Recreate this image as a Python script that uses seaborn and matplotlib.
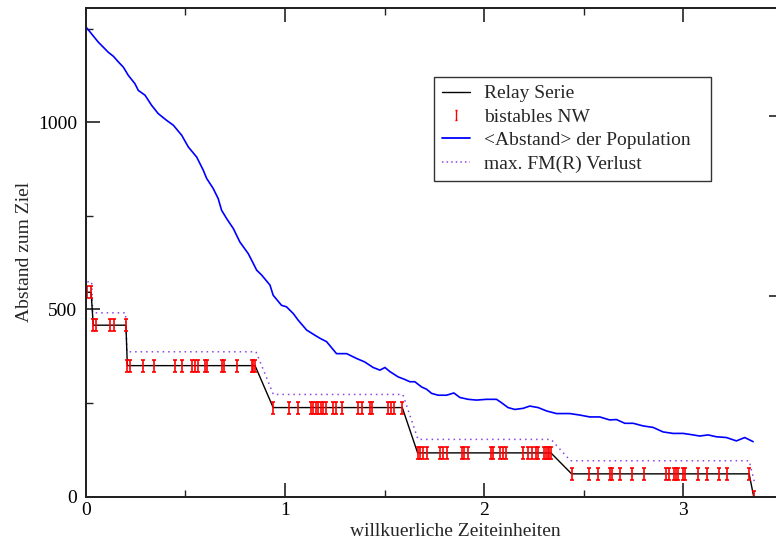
import numpy as np
import pandas as pd
import matplotlib
matplotlib.use("Agg")
import matplotlib.pyplot as plt
from matplotlib.path import Path
from matplotlib.lines import Line2D
from matplotlib.ticker import MultipleLocator, FixedLocator, NullFormatter
import seaborn as sns

# ---------------- data ----------------
# relay series: marker times per plateau and plateau values
level_values = [546, 458, 350, 238, 117, 61, 0]
level_times = [
    [0.006, 0.027],
    [0.038, 0.053, 0.121, 0.140, 0.202],
    [0.209, 0.222, 0.286, 0.344, 0.448, 0.482, 0.532, 0.548, 0.565, 0.599,
     0.610, 0.682, 0.694, 0.758, 0.833, 0.841, 0.850],
    [0.941, 1.020, 1.067, 1.130, 1.142, 1.154, 1.167, 1.181, 1.192, 1.206,
     1.242, 1.254, 1.285, 1.368, 1.385, 1.426, 1.438, 1.518, 1.532, 1.548, 1.589],
    [1.666, 1.677, 1.694, 1.711, 1.778, 1.794, 1.811, 1.887, 1.900, 1.917,
     2.034, 2.045, 2.079, 2.096, 2.112, 2.196, 2.221, 2.238, 2.258, 2.271,
     2.301, 2.309, 2.318, 2.326, 2.335],
    [2.439, 2.525, 2.572, 2.634, 2.644, 2.681, 2.740, 2.801, 2.915, 2.928,
     2.952, 2.962, 2.974, 2.999, 3.007, 3.074, 3.119, 3.179, 3.221, 3.330],
    [3.353],
]

# max. FM(R) loss (dotted)
fm_x = [0.008, 0.030, 0.035, 0.200, 0.207, 0.855, 0.942, 1.592, 1.668, 2.336, 2.433, 3.330, 3.358]
fm_y = [574, 574, 491, 491, 387, 387, 273, 273, 153, 153, 96, 96, 36]

# <Abstand> der Population (blue)
pop_x = [0.000, 0.005, 0.063, 0.113, 0.139, 0.164, 0.189, 0.214, 0.247, 0.264,
         0.298, 0.331, 0.364, 0.406, 0.440, 0.482, 0.515, 0.557, 0.590, 0.607,
         0.640, 0.665, 0.682, 0.707, 0.741, 0.774, 0.816, 0.841, 0.858, 0.883,
         0.925, 0.941, 0.983, 1.008, 1.042, 1.067, 1.109, 1.151, 1.176, 1.209,
         1.259, 1.310, 1.360, 1.400, 1.443, 1.477, 1.502, 1.527, 1.568, 1.602,
         1.627, 1.652, 1.686, 1.711, 1.736, 1.769, 1.811, 1.848, 1.878, 1.920,
         1.962, 2.012, 2.062, 2.087, 2.120, 2.154, 2.196, 2.229, 2.271, 2.313,
         2.363, 2.430, 2.480, 2.530, 2.580, 2.630, 2.664, 2.706, 2.748, 2.798,
         2.848, 2.898, 2.948, 2.999, 3.049, 3.082, 3.124, 3.166, 3.216, 3.266,
         3.308, 3.350]
pop_y = [1255, 1252, 1214, 1187, 1176, 1161, 1147, 1125, 1103, 1085,
         1072, 1045, 1023, 1005, 992, 965, 934, 907, 872, 850,
         823, 796, 765, 743, 716, 680, 649, 623, 605, 592,
         565, 538, 511, 507, 489, 471, 445, 431, 423, 414,
         382, 382, 369, 360, 345, 338, 345, 334, 320, 313,
         307, 307, 293, 287, 276, 271, 271, 277, 265, 260,
         258, 260, 260, 251, 238, 233, 236, 242, 238, 229,
         222, 222, 218, 213, 213, 205, 206, 196, 196, 189,
         185, 173, 169, 169, 165, 162, 165, 160, 158, 149,
         158, 147]

x_ticks = [0, 1, 2, 3]
y_ticks = [0, 500, 1000]

# ---------------- style ----------------
sns.set_theme(style="ticks")
plt.rcParams["font.family"] = ["Liberation Serif", "DejaVu Serif"]
plt.rcParams["axes.linewidth"] = 1.4
plt.rcParams["axes.edgecolor"] = "#222222"

relay_x = [t for ts in level_times for t in ts]
relay_y = [v for ts, v in zip(level_times, level_values) for _ in ts]
relay = pd.DataFrame({"t": relay_x, "d": relay_y})
fm = pd.DataFrame({"t": fm_x, "d": fm_y})
pop = pd.DataFrame({"t": pop_x, "d": pop_y})

W, H = 776, 545
fig = plt.figure(figsize=(W / 100, H / 100), dpi=100)
left, right, top, bottom = 85.7, 783.0, 8.0, 496.7
ax = fig.add_axes([left / W, (H - bottom) / H, (right - left) / W, (bottom - top) / H])

violet = "#8c46e6"
sns.lineplot(data=pop, x="t", y="d", ax=ax, color="#0000ff", lw=1.2,
             sort=False, estimator=None)
sns.lineplot(data=fm, x="t", y="d", ax=ax, color=violet, lw=1.1,
             linestyle=(0, (1, 2.6)), sort=False, estimator=None)
sns.lineplot(data=relay, x="t", y="d", ax=ax, color="black", lw=1.0,
             sort=False, estimator=None)

Imark = Path([(-0.33, -1), (0.33, -1), (0, -1), (0, 1), (-0.33, 1), (0.33, 1)],
             [Path.MOVETO, Path.LINETO, Path.MOVETO, Path.LINETO, Path.MOVETO, Path.LINETO])
ax.plot(relay["t"], relay["d"], linestyle="none", marker=Imark, markersize=8,
        markeredgecolor="#ff0000", markerfacecolor="none", markeredgewidth=1.2, zorder=5)

ax.set_xlim(0, 3.5)
ax.set_ylim(0, 1305)
ax.xaxis.set_major_locator(FixedLocator(x_ticks))
ax.xaxis.set_minor_locator(MultipleLocator(0.5))
ax.yaxis.set_major_locator(FixedLocator(y_ticks))
ax.yaxis.set_minor_locator(MultipleLocator(250))
ax.tick_params(which="both", direction="in", top=True, right=False,
               colors="#222222", labelcolor="black", labelsize=14)
ax.tick_params(which="major", length=10, width=1.2)
ax.tick_params(which="minor", length=5, width=1.0)
ax.tick_params(axis="y", pad=6)
ax.tick_params(axis="x", pad=4)
ax.set_xlabel("willkuerliche Zeiteinheiten", fontsize=14)
ax.set_ylabel("Abstand zum Ziel", fontsize=14)
ax.xaxis.label.set_position(((455 - left) / (right - left), 0))
ax.xaxis.labelpad = 3
ax.yaxis.labelpad = 4

# right-side ticks (second axis, no labels)
ax2 = ax.twinx()
ax2.set_ylim(0, bottom - top)
ax2.yaxis.set_major_locator(FixedLocator([bottom - 116, bottom - 296]))
ax2.yaxis.set_minor_locator(FixedLocator([bottom - 27, bottom - 207, bottom - 387]))
ax2.yaxis.set_major_formatter(NullFormatter())
ax2.tick_params(which="both", direction="in", colors="#222222")
ax2.tick_params(which="major", length=10, width=1.2)
ax2.tick_params(which="minor", length=4, width=0.6)

handles = [
    Line2D([], [], color="black", lw=1.0),
    Line2D([], [], linestyle="none", marker=Imark, markersize=6.5,
           markeredgecolor="#ff0000", markerfacecolor="none", markeredgewidth=1.0),
    Line2D([], [], color="#0000ff", lw=1.3),
    Line2D([], [], color=violet, lw=1.1, linestyle=(0, (1, 2.0))),
]
labels = ["Relay Serie", "bistables NW", "<Abstand> der Population", "max. FM(R) Verlust"]
aw = right - left
ah = bottom - top
leg_x0 = (434 - left) / aw
leg_w = (711 - 434) / aw
leg_top = (bottom - 77) / ah
leg = ax.legend(handles, labels, loc="upper left",
                bbox_to_anchor=(leg_x0, leg_top - 0.4, leg_w, 0.4), mode="expand",
                borderaxespad=0, frameon=True, fancybox=False, shadow=False,
                fontsize=14, handlelength=1.45, handletextpad=0.7,
                labelspacing=0.3, borderpad=0.4)
leg.get_frame().set_edgecolor("#333333")
leg.get_frame().set_linewidth(1.0)
leg.get_frame().set_alpha(1)

fig.savefig("out.png", dpi=100)
